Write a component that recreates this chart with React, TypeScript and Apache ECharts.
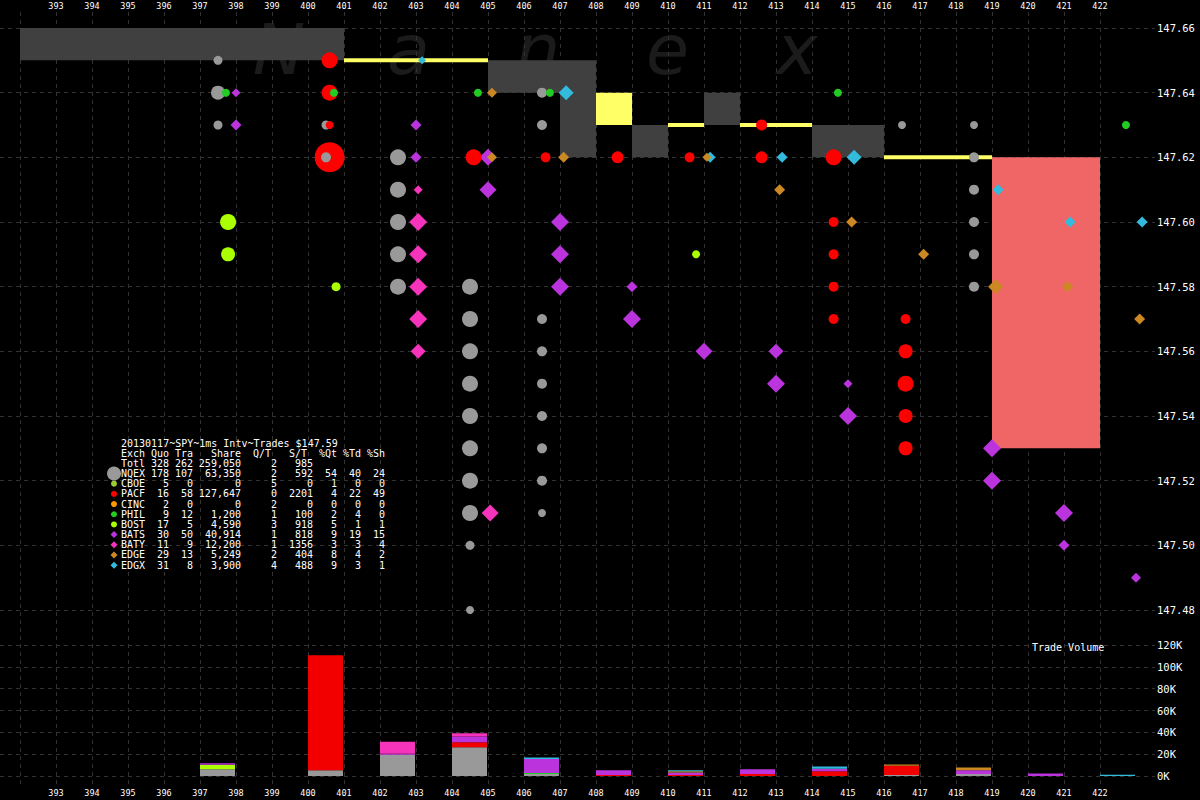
import React, { useEffect, useRef } from 'react';
import * as echarts from 'echarts';

const MONO = '"DejaVu Sans Mono", "Liberation Mono", monospace';

// ---------- axes ----------
const timeStart = 392;
const timeEnd = 422;
const priceMin = 147.48;
const priceMax = 147.66;
const priceStep = 0.02;
const volumeMax = 120000;
const volumeStep = 20000;

// ---------- title / table ----------
const chartTitle = '20130117~SPY~1ms Intv~Trades $147.59';
const watermark = 'Nanex';
const exchanges = ['NQEX', 'CBOE', 'PACF', 'CINC', 'PHIL', 'BOST', 'BATS', 'BATY', 'EDGE', 'EDGX'];
const quoteCounts = [178, 5, 16, 2, 9, 17, 30, 11, 29, 31];
const tradeCounts = [107, 0, 58, 0, 12, 5, 50, 9, 13, 8];
const shareCounts = [63350, 0, 127647, 0, 1200, 4590, 40914, 12200, 5249, 3900];
const quotesPerTrade = [2, 5, 0, 2, 1, 3, 1, 1, 2, 4];
const sharesPerTrade = [592, 0, 2201, 0, 100, 918, 818, 1356, 404, 488];
const pctQuotes = [54, 1, 4, 0, 2, 5, 9, 3, 8, 9];
const pctTrades = [40, 0, 22, 0, 4, 1, 19, 3, 4, 3];
const pctShares = [24, 0, 49, 0, 0, 1, 15, 4, 2, 1];
const totalRow = { quo: 328, tra: 262, share: 259050, qt: 2, st: 985 };

// ---------- NBBO spread blocks ----------
const spreadStart = [392, 401, 405, 407, 408, 409, 410, 411, 412, 414, 416, 419];
const spreadEnd = [401, 405, 407, 408, 409, 410, 411, 412, 414, 416, 419, 422];
const spreadBid = [147.65, 147.65, 147.64, 147.62, 147.63, 147.62, 147.63, 147.63, 147.63, 147.62, 147.62, 147.53];
const spreadAsk = [147.66, 147.65, 147.65, 147.65, 147.64, 147.63, 147.63, 147.64, 147.63, 147.63, 147.62, 147.62];
const spreadState = ['normal', 'locked', 'normal', 'normal', 'crossed', 'normal', 'locked', 'normal', 'locked', 'normal', 'locked', 'wide'];

// ---------- quotes per exchange: [time, price, quote size mark] ----------
const nqexQuotes = [
  [397.5, 147.65, 9], [397.5, 147.64, 14], [397.5, 147.63, 9],
  [400.5, 147.63, 9], [400.5, 147.62, 10],
  [402.5, 147.62, 16], [402.5, 147.61, 16], [402.5, 147.6, 16], [402.5, 147.59, 16], [402.5, 147.58, 16],
  [404.5, 147.58, 16], [404.5, 147.57, 16], [404.5, 147.56, 16], [404.5, 147.55, 16], [404.5, 147.54, 16],
  [404.5, 147.53, 16], [404.5, 147.52, 16], [404.5, 147.51, 16], [404.5, 147.5, 9], [404.5, 147.48, 8],
  [406.5, 147.64, 10], [406.5, 147.63, 10], [406.5, 147.57, 10], [406.5, 147.56, 10], [406.5, 147.55, 10],
  [406.5, 147.54, 10], [406.5, 147.53, 10], [406.5, 147.52, 10], [406.5, 147.51, 8],
  [416.5, 147.63, 8],
  [418.5, 147.63, 8], [418.5, 147.62, 10], [418.5, 147.61, 10], [418.5, 147.6, 10], [418.5, 147.59, 10], [418.5, 147.58, 10],
];
const cboeQuotes: number[][] = [];
const pacfQuotes = [
  [400.6, 147.65, 16], [400.6, 147.64, 16], [400.6, 147.63, 8], [400.6, 147.62, 30],
  [404.6, 147.62, 16], [406.6, 147.62, 10], [408.6, 147.62, 12], [410.6, 147.62, 10],
  [412.6, 147.63, 11], [412.6, 147.62, 12],
  [414.6, 147.62, 16], [414.6, 147.6, 10], [414.6, 147.59, 10], [414.6, 147.58, 10], [414.6, 147.57, 10],
  [416.6, 147.57, 10], [416.6, 147.56, 14], [416.6, 147.55, 16], [416.6, 147.54, 14], [416.6, 147.53, 14],
];
const cincQuotes: number[][] = [];
const philQuotes = [
  [397.72, 147.64, 8], [400.72, 147.64, 8], [404.72, 147.64, 8], [406.72, 147.64, 8], [414.72, 147.64, 8], [422.72, 147.63, 8],
];
const bostQuotes = [
  [397.78, 147.6, 16], [397.78, 147.59, 14], [400.78, 147.58, 9], [410.78, 147.59, 8],
];
const batsQuotes = [
  [398.0, 147.64, 9], [398.0, 147.63, 11], [403.0, 147.63, 11], [403.0, 147.62, 11],
  [405.0, 147.62, 17], [405.0, 147.61, 17],
  [407.0, 147.6, 18], [407.0, 147.59, 18], [407.0, 147.58, 18],
  [409.0, 147.58, 11], [409.0, 147.57, 18],
  [411.0, 147.56, 17], [413.0, 147.56, 15], [413.0, 147.55, 18], [415.0, 147.55, 9], [415.0, 147.54, 18],
  [419.0, 147.53, 18], [419.0, 147.52, 18], [421.0, 147.51, 18], [421.0, 147.5, 11], [423.0, 147.49, 10],
];
const batyQuotes = [
  [403.06, 147.61, 9], [403.06, 147.6, 18], [403.06, 147.59, 18], [403.06, 147.58, 18], [403.06, 147.57, 18],
  [403.06, 147.56, 15], [405.06, 147.51, 17],
];
const edgeQuotes = [
  [405.11, 147.64, 10], [405.11, 147.62, 10], [407.1, 147.62, 11], [411.08, 147.62, 9], [413.1, 147.61, 11],
  [415.1, 147.6, 11], [417.1, 147.59, 11], [419.1, 147.58, 15], [421.1, 147.58, 11], [423.1, 147.57, 11],
];
const edgxQuotes = [
  [403.17, 147.65, 8], [407.17, 147.64, 15], [411.17, 147.62, 11], [413.17, 147.62, 11], [415.17, 147.62, 15],
  [419.17, 147.61, 11], [421.17, 147.6, 11], [423.17, 147.6, 11],
];

// ---------- trade volume per 1ms slot (shares) ----------
const volumeSlots = [397, 400, 402, 404, 406, 408, 410, 412, 414, 416, 418, 420, 422];
const nqexVolume = [6100, 5200, 19800, 26300, 1800, 0, 0, 0, 0, 900, 1800, 0, 0];
const philVolume = [0, 0, 0, 0, 900, 0, 0, 0, 0, 0, 0, 0, 0];
const pacfVolume = [0, 105300, 0, 4600, 0, 900, 1000, 1800, 4300, 8500, 0, 0, 0];
const bostVolume = [4300, 0, 0, 0, 0, 0, 0, 0, 0, 0, 0, 0, 0];
const batsVolume = [1200, 0, 600, 5200, 12800, 4300, 2100, 4300, 2400, 0, 3400, 2200, 0];
const batyVolume = [0, 0, 11000, 3000, 0, 0, 0, 0, 0, 0, 0, 0, 0];
const edgeVolume = [0, 0, 0, 0, 0, 0, 1200, 0, 0, 1200, 2700, 0, 0];
const edgxVolume = [0, 0, 0, 0, 1500, 0, 900, 0, 2100, 0, 0, 0, 1200];

// ---------- styling ----------
const exchangeColors = ['#999999', '#99cc33', '#ff0000', '#ff9900', '#22cc22', '#aaff00', '#bb33dd', '#f533bb', '#cc8822', '#33bbdd'];
const exchangeShapes = ['circle', 'circle', 'circle', 'circle', 'circle', 'circle', 'diamond', 'diamond', 'diamond', 'diamond'];
const spreadColors: Record<string, string> = { normal: '#404040', locked: '#ffff66', crossed: '#ffff66', wide: '#f06666' };
const volumeColors = ['#999999', '#22cc22', '#f20000', '#aaff00', '#bb33dd', '#f533bb', '#cc8822', '#33bbdd'];

const PX_PER_MS = 36;
const LINES_LEFT = 20;
const PLOT_RIGHT = 45;
const BAR_PX = 35;
const X_MIN = timeStart - LINES_LEFT / PX_PER_MS;
const X_MAX = X_MIN + (1200 - PLOT_RIGHT) / PX_PER_MS;

function fmtThousands(n: number) {
  return String(n).replace(/\B(?=(\d{3})+(?!\d))/g, ',');
}

function buildOption() {
  const quoteSets = [nqexQuotes, cboeQuotes, pacfQuotes, cincQuotes, philQuotes, bostQuotes, batsQuotes, batyQuotes, edgeQuotes, edgxQuotes];
  const marks: any[] = [];
  quoteSets.forEach((set, i) => {
    set.forEach(([t, p, s]) => {
      marks.push({ value: [t, p, s], symbol: exchangeShapes[i], symbolSize: s, itemStyle: { color: exchangeColors[i], opacity: 1 } });
    });
  });
  marks.sort((a, b) => b.value[2] - a.value[2]);

  // stacked volume segments: [slot, base, top, colorIndex]
  const stackSets = [nqexVolume, philVolume, pacfVolume, bostVolume, batsVolume, batyVolume, edgeVolume, edgxVolume];
  const volumeSegments: number[][] = [];
  volumeSlots.forEach((slot, j) => {
    let base = 0;
    stackSets.forEach((vals, k) => {
      const v = vals[j];
      if (v > 0) {
        volumeSegments.push([slot, base, base + v, k]);
        base += v;
      }
    });
  });

  const spreadData = spreadStart.map((s, i) => [s, spreadEnd[i], spreadBid[i], spreadAsk[i], i]);

  // ---------- graphics: watermark, table, label ----------
  const graphics: any[] = [];
  watermark.split('').forEach((ch, i) => {
    graphics.push({
      type: 'text', x: 279 + i * 129.5, y: 50, z: -1, silent: true,
      style: { text: ch, fill: '#1b1b1b', fontSize: 70, fontStyle: 'italic', fontFamily: '"DejaVu Sans", sans-serif', textAlign: 'center', textVerticalAlign: 'middle' },
    });
  });

  const tx = 121;
  const cw = 6.0;
  const ty0 = 443;
  const lh = 10.18;
  const txt = (text: string, charEnd: number | null, y: number) => ({
    type: 'text', z: 10, silent: true,
    x: charEnd === null ? tx : tx + charEnd * cw,
    y,
    style: { text, fill: '#ffffff', fontSize: 10, fontFamily: MONO, textAlign: charEnd === null ? 'left' : 'right', textVerticalAlign: 'middle' },
  });
  graphics.push(txt(chartTitle, null, ty0));
  const headers: [string, number | null][] = [['Exch', null], ['Quo', 8], ['Tra', 12], ['Share', 20], ['Q/T', 25], ['S/T', 31], ['%Qt', 36], ['%Td', 40], ['%Sh', 44]];
  headers.forEach(([h, e]) => graphics.push(txt(h, e, ty0 + lh)));
  const colEnds = [8, 12, 20, 26, 32, 36, 40, 44];
  const totVals = [String(totalRow.quo), String(totalRow.tra), fmtThousands(totalRow.share), String(totalRow.qt), String(totalRow.st)];
  graphics.push(txt('Totl', null, ty0 + 2 * lh));
  totVals.forEach((v, k) => graphics.push(txt(v, colEnds[k], ty0 + 2 * lh)));
  exchanges.forEach((ex, i) => {
    const y = ty0 + (3 + i) * lh;
    graphics.push(txt(ex, null, y));
    const vals = [String(quoteCounts[i]), String(tradeCounts[i]), fmtThousands(shareCounts[i]), String(quotesPerTrade[i]), String(sharesPerTrade[i]), String(pctQuotes[i]), String(pctTrades[i]), String(pctShares[i])];
    vals.forEach((v, k) => graphics.push(txt(v, colEnds[k], y)));
    const sx = 114;
    if (exchangeShapes[i] === 'circle') {
      graphics.push({ type: 'circle', z: 10, silent: true, shape: { cx: sx, cy: y, r: i === 0 ? 7 : 3 }, style: { fill: exchangeColors[i] } });
    } else {
      const r = 3.5;
      graphics.push({ type: 'polygon', z: 10, silent: true, shape: { points: [[sx, y - r], [sx + r, y], [sx, y + r], [sx - r, y]] }, style: { fill: exchangeColors[i] } });
    }
  });
  graphics.push({
    type: 'text', x: 1032, y: 647, z: 10, silent: true,
    style: { text: 'Trade Volume', fill: '#ffffff', fontSize: 10, fontFamily: MONO, textAlign: 'left', textVerticalAlign: 'middle' },
  });

  const gridLine = { show: true, lineStyle: { color: '#333333', type: [4, 4], width: 1 } };
  const xLabel = { color: '#ffffff', fontSize: 8.5, fontFamily: MONO, margin: 2, formatter: (v: number) => (v === timeStart ? '' : String(v)) };

  return {
    backgroundColor: '#000000',
    animation: false,
    grid: [
      { left: LINES_LEFT, right: 100, top: 12, bottom: 13 },
      { left: 0, right: PLOT_RIGHT, top: 28, bottom: 190 },
      { left: 0, right: PLOT_RIGHT, top: 645, bottom: 24 },
    ],
    xAxis: [
      { gridIndex: 0, type: 'value', position: 'top', min: timeStart, max: timeEnd, interval: 1, axisLine: { show: false }, axisTick: { show: false }, axisLabel: xLabel, splitLine: gridLine },
      { gridIndex: 0, type: 'value', position: 'bottom', min: timeStart, max: timeEnd, interval: 1, axisLine: { show: false }, axisTick: { show: false }, axisLabel: { ...xLabel, margin: 1 }, splitLine: { show: false } },
      { gridIndex: 1, type: 'value', min: X_MIN, max: X_MAX, show: false },
      { gridIndex: 2, type: 'value', min: X_MIN, max: X_MAX, show: false },
    ],
    yAxis: [
      { gridIndex: 0, type: 'value', min: 0, max: 1, show: false },
      {
        gridIndex: 1, type: 'value', position: 'right', min: priceMin, max: priceMax, interval: priceStep,
        axisLine: { show: false }, axisTick: { show: false }, splitLine: gridLine,
        axisLabel: { color: '#ffffff', fontSize: 10.5, fontFamily: MONO, margin: 2, formatter: (v: number) => v.toFixed(2) },
      },
      {
        gridIndex: 2, type: 'value', position: 'right', min: 0, max: volumeMax, interval: volumeStep,
        axisLine: { show: false }, axisTick: { show: false }, splitLine: gridLine,
        axisLabel: { color: '#ffffff', fontSize: 10.5, fontFamily: MONO, margin: 2, formatter: (v: number) => `${Math.round(v / 1000)}K` },
      },
    ],
    graphic: graphics,
    series: [
      {
        type: 'custom',
        xAxisIndex: 2,
        yAxisIndex: 1,
        silent: true,
        clip: false,
        z: 2,
        encode: { x: [0, 1], y: [2, 3] },
        data: spreadData,
        renderItem: (params: any, api: any) => {
          const x0 = api.value(0);
          const x1 = api.value(1);
          const lo = api.value(2);
          const hi = api.value(3);
          const state = spreadState[api.value(4)];
          const p0 = api.coord([x0, hi]);
          const p1 = api.coord([x1, lo]);
          let y = p0[1];
          let h = p1[1] - p0[1];
          if (h < 1) {
            y = p0[1] - 2;
            h = 4;
          }
          return { type: 'rect', shape: { x: p0[0], y, width: p1[0] - p0[0], height: h }, style: { fill: spreadColors[state] } };
        },
      },
      {
        type: 'scatter',
        xAxisIndex: 2,
        yAxisIndex: 1,
        silent: true,
        clip: false,
        z: 3,
        itemStyle: { opacity: 1 },
        data: marks,
      },
      {
        type: 'custom',
        xAxisIndex: 3,
        yAxisIndex: 2,
        silent: true,
        clip: false,
        z: 2,
        encode: { x: 0, y: [1, 2] },
        data: volumeSegments,
        renderItem: (params: any, api: any) => {
          const slot = api.value(0);
          const p0 = api.coord([slot, api.value(2)]);
          const p1 = api.coord([slot, api.value(1)]);
          return {
            type: 'rect',
            shape: { x: p0[0], y: p0[1], width: BAR_PX, height: Math.max(p1[1] - p0[1], 1) },
            style: { fill: volumeColors[api.value(3)] },
          };
        },
      },
    ],
  };
}

export default function App() {
  const ref = useRef<HTMLDivElement>(null);
  useEffect(() => {
    document.body.style.margin = '0';
    document.body.style.background = '#000';
    const chart = echarts.init(ref.current as HTMLDivElement, null, { renderer: 'svg' });
    chart.setOption(buildOption() as any);
    return () => chart.dispose();
  }, []);
  return <div ref={ref} style={{ width: 1200, height: 800 }} />;
}
